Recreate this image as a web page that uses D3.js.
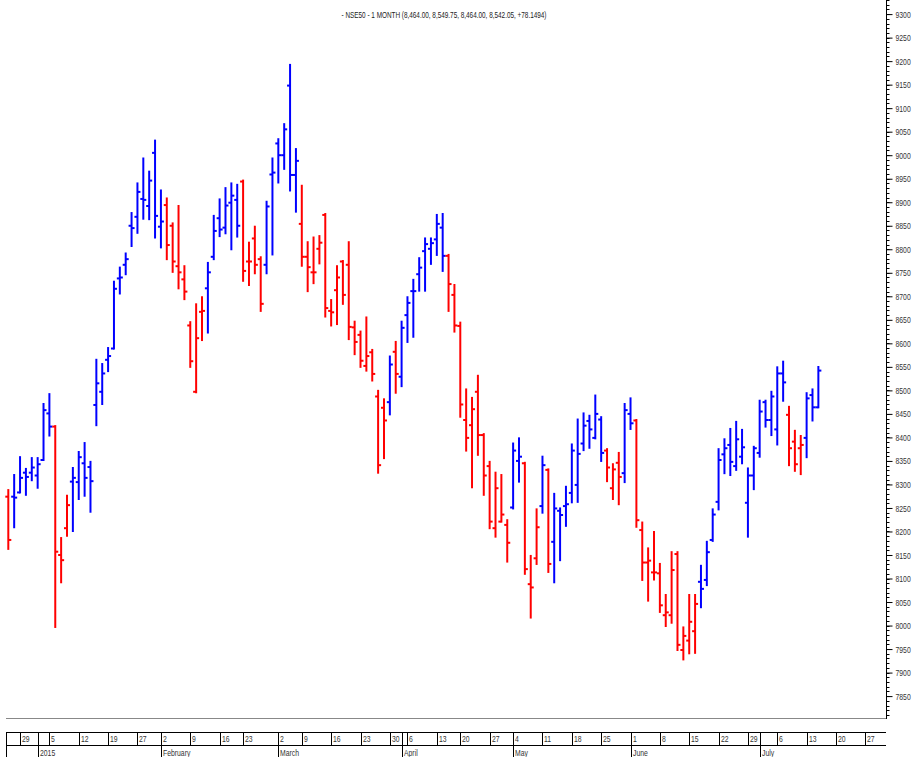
<!DOCTYPE html>
<html><head><meta charset="utf-8">
<script src="https://cdn.jsdelivr.net/npm/d3@7"></script>
<style>html,body{margin:0;padding:0;background:#fff;}svg{display:block;}</style>
</head><body>
<svg id="chart" width="920" height="757"></svg>
<script>
const title = "- NSE50 - 1 MONTH (8,464.00, 8,549.75, 8,464.00, 8,542.05, +78.1494)";
const dates = [
"2014-12-24","2014-12-26","2014-12-29","2014-12-30","2014-12-31",
"2015-01-01","2015-01-02","2015-01-05","2015-01-06","2015-01-07","2015-01-08","2015-01-09",
"2015-01-12","2015-01-13","2015-01-14","2015-01-15","2015-01-16","2015-01-19","2015-01-20","2015-01-21","2015-01-22","2015-01-23",
"2015-01-27","2015-01-28","2015-01-29","2015-01-30",
"2015-02-02","2015-02-03","2015-02-04","2015-02-05","2015-02-06","2015-02-09","2015-02-10","2015-02-11","2015-02-12","2015-02-13",
"2015-02-16","2015-02-18","2015-02-19","2015-02-20","2015-02-23","2015-02-24","2015-02-25","2015-02-26","2015-02-27","2015-02-28",
"2015-03-02","2015-03-03","2015-03-04","2015-03-05","2015-03-09","2015-03-10","2015-03-11","2015-03-12","2015-03-13",
"2015-03-16","2015-03-17","2015-03-18","2015-03-19","2015-03-20","2015-03-23","2015-03-24","2015-03-25","2015-03-26","2015-03-27",
"2015-03-30","2015-03-31","2015-04-01","2015-04-06","2015-04-07","2015-04-08","2015-04-09","2015-04-10",
"2015-04-13","2015-04-15","2015-04-16","2015-04-17","2015-04-20","2015-04-21","2015-04-22","2015-04-23","2015-04-24",
"2015-04-27","2015-04-28","2015-04-29","2015-04-30","2015-05-04","2015-05-05","2015-05-06","2015-05-07","2015-05-08",
"2015-05-11","2015-05-12","2015-05-13","2015-05-14","2015-05-15","2015-05-18","2015-05-19","2015-05-20","2015-05-21","2015-05-22",
"2015-05-25","2015-05-26","2015-05-27","2015-05-28","2015-05-29","2015-06-01","2015-06-02","2015-06-03","2015-06-04","2015-06-05",
"2015-06-08","2015-06-09","2015-06-10","2015-06-11","2015-06-12","2015-06-15","2015-06-16","2015-06-17","2015-06-18","2015-06-19",
"2015-06-22","2015-06-23","2015-06-24","2015-06-25","2015-06-26","2015-06-29","2015-06-30","2015-07-01","2015-07-02","2015-07-03",
"2015-07-06","2015-07-07","2015-07-08","2015-07-09","2015-07-10","2015-07-13","2015-07-14","2015-07-15"];
const futureDates = ["2015-07-16","2015-07-17","2015-07-20","2015-07-21","2015-07-22","2015-07-23","2015-07-24","2015-07-27","2015-07-28","2015-07-29","2015-07-30","2015-07-31"];
const open = [8274,8274,8283,8325,8325,8319,8352,8451,8423,8150,8207,8306,8305,8345,8337,8469,8497,8565,8589,8738,8767,8850,8869,8907,8892,9005,8848,8894,8850,8764,8736,8638,8497,8667,8717,8784,8866,8846,8899,8905,8944,8774,8823,8779,8767,8959,9025,9000,9148,8958,8854,8784,8751,8801,8873,8669,8713,8774,8767,8634,8618,8552,8581,8487,8463,8475,8582,8529,8660,8711,8747,8796,8801,8821,8846,8786,8703,8637,8437,8426,8497,8405,8339,8207,8221,8214,8251,8350,8345,8088,8143,8254,8331,8178,8244,8254,8282,8299,8387,8435,8399,8438,8372,8292,8346,8324,8450,8436,8203,8134,8113,8111,8022,8022,8152,7948,7968,7988,8093,8097,8182,8263,8364,8384,8339,8359,8261,8319,8367,8475,8437,8417,8536,8448,8391,8377,8399,8490,8464];
const high = [8288,8320,8358,8333,8356,8356,8471,8492,8424,8186,8276,8335,8369,8388,8348,8565,8556,8590,8731,8761,8791,8877,8940,8993,8965,9031,8925,8908,8855,8892,8764,8645,8683,8698,8771,8871,8906,8930,8940,8937,8946,8814,8848,8783,8901,8993,9034,9066,9192,9013,8935,8815,8825,8828,8875,8692,8764,8775,8815,8646,8625,8655,8586,8499,8481,8572,8603,8646,8698,8735,8781,8823,8823,8873,8875,8788,8724,8644,8502,8484,8531,8407,8348,8325,8320,8224,8387,8398,8346,8148,8247,8359,8332,8280,8249,8295,8385,8438,8451,8446,8489,8443,8375,8343,8367,8471,8483,8437,8219,8164,8199,8131,8065,8156,8156,7996,8065,8065,8127,8178,8247,8375,8396,8418,8433,8416,8334,8380,8478,8478,8497,8549,8561,8465,8414,8403,8494,8502,8549.75];
const low = [8163,8209,8283,8278,8309,8293,8352,8404,7997,8092,8191,8201,8269,8276,8242,8426,8471,8541,8589,8706,8747,8807,8835,8865,8864,8825,8804,8779,8752,8717,8694,8550,8496,8607,8623,8779,8828,8834,8800,8827,8733,8724,8749,8669,8749,8789,8942,8971,8925,8880,8765,8711,8728,8770,8657,8638,8641,8684,8609,8577,8550,8542,8521,8325,8356,8449,8495,8509,8603,8614,8712,8712,8769,8788,8754,8669,8625,8444,8372,8294,8363,8278,8207,8189,8221,8136,8249,8306,8110,8017,8131,8240,8114,8092,8139,8212,8262,8263,8373,8378,8398,8350,8307,8269,8258,8305,8418,8210,8097,8053,8098,8029,7999,8006,7948,7928,7941,7942,8039,8086,8180,8247,8324,8320,8331,8345,8189,8290,8359,8423,8405,8385,8478,8341,8329,8322,8358,8436,8464];
const close = [8182,8272,8314,8316,8336,8343,8458,8423,8157,8139,8256,8314,8358,8314,8307,8515,8536,8573,8716,8740,8779,8845,8922,8905,8946,8871,8859,8809,8774,8751,8710,8562,8611,8669,8751,8839,8842,8893,8914,8850,8754,8774,8767,8684,8891,8963,9000,9055,8958,8988,8784,8762,8751,8814,8675,8666,8740,8703,8635,8603,8563,8573,8535,8341,8436,8555,8535,8633,8686,8711,8761,8811,8813,8854,8786,8726,8638,8470,8399,8460,8405,8319,8221,8292,8236,8176,8372,8359,8120,8081,8209,8341,8131,8249,8235,8258,8372,8365,8425,8417,8450,8367,8336,8332,8316,8458,8430,8224,8134,8138,8113,8043,8028,8118,7959,7978,8008,8046,8078,8156,8236,8352,8377,8348,8396,8379,8319,8377,8455,8437,8487,8536,8517,8377,8343,8384,8483,8464,8542.05];
const trend = "DUUUUUUUDDDUUUUUUUUUUUUUUUUDDDDDDDUUUUUUDDDDUUUUUUDDDDDDDDDDDDDDDUDUUUUUUUUDDDDDDDDDDDUUDDDUDUUUUUUUUUDDDUUDDDDDDDDDDDUUUUUUUUUUUUUUUDDDUUU".split("");
const majorTicks = [7850,7900,7950,8000,8050,8100,8150,8200,8250,8300,8350,8400,8450,8500,8550,8600,8650,8700,8750,8800,8850,8900,8950,9000,9050,9100,9150,9200,9250,9300];
const monthStarts = ["2015-01-01","2015-02-02","2015-03-02","2015-04-01","2015-05-04","2015-06-01","2015-07-01"];
const monthLabels = ["2015","February","March","April","May","June","July"];

const W = 920, H = 757;
const plotBottom = 718, axisX = 886, left = 6;
const FONT = "'Liberation Sans',Arial,sans-serif";
const SQUEEZE = 0.72;
const svg = d3.select("#chart");
const allDates = dates.concat(futureDates);
const step = 5.87;
const x = d3.scalePoint().domain(allDates).range([8.3, 8.3 + step * (allDates.length - 1)]);
const y = d3.scaleLinear().domain([7850, 9300]).range([696.1, 14.1]);
const color = d3.scaleOrdinal().domain(["U","D"]).range(["#0000ff","#ff0000"]);

function squeeze(sel, f) {
  sel.each(function () {
    const len = this.getComputedTextLength();
    d3.select(this).attr("textLength", len * f).attr("lengthAdjust", "spacingAndGlyphs");
  });
}

const data = dates.map((d, i) => ({d, o: open[i], h: high[i], l: low[i], c: close[i], t: trend[i]}));

// frame
svg.append("line").attr("x1", left).attr("x2", axisX).attr("y1", plotBottom + 0.5).attr("y2", plotBottom + 0.5).attr("stroke", "#888").attr("stroke-width", 1);

// right axis
const gAxis = svg.append("g").attr("transform", `translate(${axisX + 0.5},0)`);
gAxis.append("line").attr("y1", 0).attr("y2", plotBottom + 1).attr("stroke", "#000");
const minor = d3.range(7810, 9340, 10);
gAxis.selectAll("line.minor").data(minor).join("line").attr("class", "minor")
  .attr("x1", 0).attr("x2", 3).attr("y1", v => Math.round(y(v)) + 0.5).attr("y2", v => Math.round(y(v)) + 0.5).attr("stroke", "#000");
const yAxis = d3.axisRight(y).tickValues(majorTicks).tickSize(6).tickFormat(d3.format("d"));
const ga = svg.append("g").attr("transform", `translate(${axisX + 0.5},0)`).call(yAxis);
ga.select(".domain").remove();
ga.selectAll(".tick line").attr("stroke", "#000");
ga.selectAll(".tick text").attr("x", 9).attr("font-family", FONT).attr("font-size", 9.5).attr("fill", "#333").call(squeeze, SQUEEZE);

// bars
const g = svg.append("g");
const bars = g.selectAll("g.bar").data(data).join("g").attr("class", "bar")
  .attr("stroke", d => color(d.t)).attr("stroke-width", 2);
bars.append("line").attr("x1", d => x(d.d)).attr("x2", d => x(d.d)).attr("y1", d => y(d.h) - 1).attr("y2", d => y(d.l) + 1);
bars.append("line").attr("x1", d => x(d.d) - 3).attr("x2", d => x(d.d)).attr("y1", d => y(d.o)).attr("y2", d => y(d.o));
bars.append("line").attr("x1", d => x(d.d)).attr("x2", d => x(d.d) + 3).attr("y1", d => y(d.c)).attr("y2", d => y(d.c));

// title
svg.append("text").attr("x", 444).attr("y", 18).attr("text-anchor", "middle")
  .attr("font-family", FONT).attr("font-size", 8.5).attr("fill", "#222").text(title)
  .attr("textLength", 205).attr("lengthAdjust", "spacingAndGlyphs");

// date axis rows
const row1 = 732, row2 = 745, row3 = 758;
[row1, row2].forEach(yy => svg.append("line").attr("x1", left).attr("x2", axisX).attr("y1", yy + 0.5).attr("y2", yy + 0.5).attr("stroke", "#000"));
svg.append("line").attr("x1", left + 0.5).attr("x2", left + 0.5).attr("y1", row1).attr("y2", row3).attr("stroke", "#000");

const parse = d3.timeParse("%Y-%m-%d");
const weekStarts = allDates.filter((d, i) => i > 0 && d3.timeMonday.floor(parse(d)) > d3.timeMonday.floor(parse(allDates[i - 1])));
const sepDates = Array.from(new Set(weekStarts.concat(monthStarts)));
svg.selectAll("line.dsep").data(sepDates).join("line").attr("class", "dsep")
  .attr("x1", d => Math.round(x(d)) + 0.5).attr("x2", d => Math.round(x(d)) + 0.5)
  .attr("y1", row1).attr("y2", row2).attr("stroke", "#000");
svg.selectAll("text.day").data(weekStarts).join("text").attr("class", "day")
  .attr("x", d => Math.round(x(d)) + 2).attr("y", row2 - 3)
  .attr("font-family", FONT).attr("font-size", 9.5).attr("fill", "#333")
  .text(d => +d.slice(8, 10)).call(squeeze, SQUEEZE);
svg.selectAll("line.msep").data(monthStarts).join("line").attr("class", "msep")
  .attr("x1", d => Math.round(x(d)) + 0.5).attr("x2", d => Math.round(x(d)) + 0.5)
  .attr("y1", row2).attr("y2", row3).attr("stroke", "#000");
svg.selectAll("text.month").data(monthStarts).join("text").attr("class", "month")
  .attr("x", d => Math.round(x(d)) + 2).attr("y", row3 - 2)
  .attr("font-family", FONT).attr("font-size", 9.5).attr("fill", "#333")
  .text((d, i) => monthLabels[i]).call(squeeze, SQUEEZE);
</script>
</body></html>
